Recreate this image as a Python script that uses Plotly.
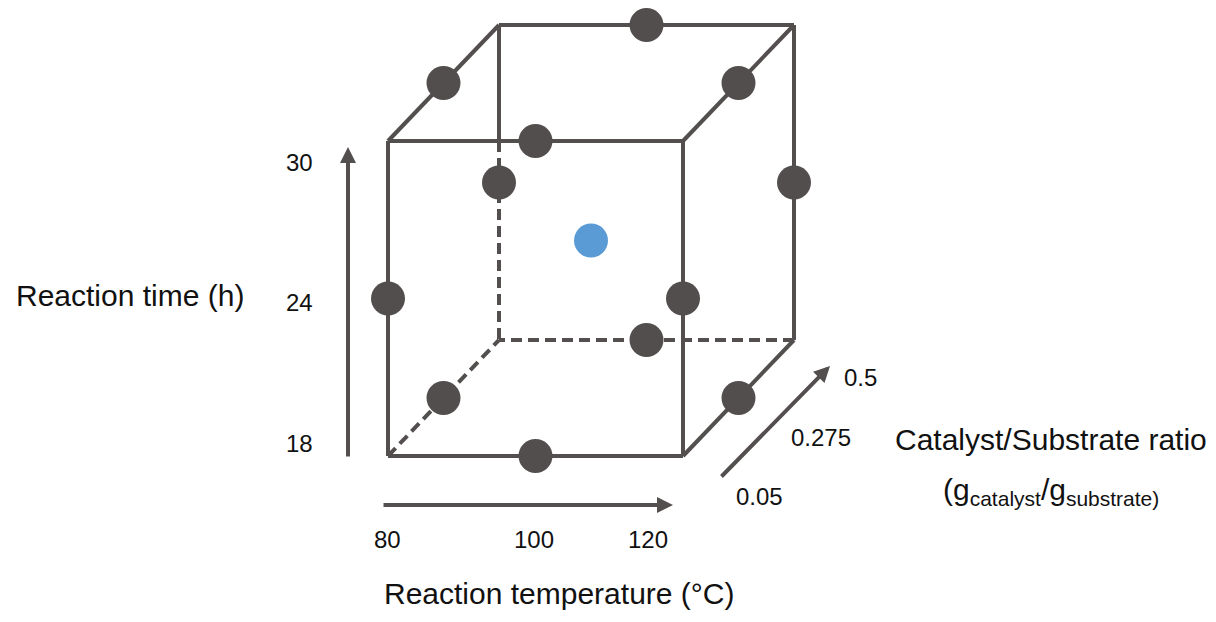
import plotly.graph_objects as go

# ---------------- data ----------------
temp_levels = [80, 100, 120]          # Reaction temperature (°C)
time_levels = [18, 24, 30]            # Reaction time (h)
ratio_levels = [0.05, 0.275, 0.5]     # Catalyst/Substrate ratio

# Box-Behnken design: edge mid-points of the cube
design_temp = [80, 120, 80, 120, 100, 100, 100, 100, 80, 120, 80, 120]
design_time = [18, 18, 30, 30, 18, 30, 18, 30, 24, 24, 24, 24]
design_ratio = [0.275, 0.275, 0.275, 0.275, 0.05, 0.05, 0.5, 0.5, 0.05, 0.05, 0.5, 0.5]
# centre point
center_temp = [100]
center_time = [24]
center_ratio = [0.275]

temp_ticks = ["80", "100", "120"]
time_ticks = ["18", "24", "30"]
ratio_ticks = ["0.05", "0.275", "0.5"]

# ---------------- oblique projection ----------------
X0, Y0 = 388, 456      # front-bottom-left corner on canvas
W, H = 295, 315        # temperature span, time span
DX, DY = 111, 116      # depth (ratio) offset

tmin, tmax = min(temp_levels), max(temp_levels)
hmin, hmax = min(time_levels), max(time_levels)
rmin, rmax = min(ratio_levels), max(ratio_levels)


def proj(T, t, R):
    u = (T - tmin) / (tmax - tmin)
    v = (t - hmin) / (hmax - hmin)
    w = (R - rmin) / (rmax - rmin)
    return X0 + u * W + w * DX, Y0 - v * H - w * DY


def corner(i, j, k):
    return ([tmin, tmax][i], [hmin, hmax][j], [rmin, rmax][k])


LINE = "#534f4e"
DOT = "#524e4d"
BLUE = "#5b9bd5"


def seg_trace(segments, dash):
    xs, ys = [], []
    for a, b in segments:
        for p in (a, b):
            x, y = proj(*p)
            xs.append(x)
            ys.append(y)
        xs.append(None)
        ys.append(None)
    return go.Scatter(x=xs, y=ys, mode="lines", hoverinfo="skip",
                      line=dict(color=LINE, width=4, dash=dash))


# time at which the back-left edge passes behind the front top edge
t_cross = hmin + (1 - DY / H) * (hmax - hmin)

solid = [
    (corner(0, 0, 0), corner(1, 0, 0)),
    (corner(1, 0, 0), corner(1, 1, 0)),
    (corner(1, 1, 0), corner(0, 1, 0)),
    (corner(0, 1, 0), corner(0, 0, 0)),
    (corner(0, 1, 1), corner(1, 1, 1)),
    (corner(1, 1, 1), corner(1, 0, 1)),
    (corner(0, 1, 0), corner(0, 1, 1)),
    (corner(1, 1, 0), corner(1, 1, 1)),
    (corner(1, 0, 0), corner(1, 0, 1)),
    (corner(0, 1, 1), (tmin, t_cross, rmax)),
]
dashed = [
    ((tmin, t_cross, rmax), corner(0, 0, 1)),
    (corner(1, 0, 1), corner(0, 0, 1)),
    (corner(0, 0, 0), corner(0, 0, 1)),
]

fig = go.Figure()
fig.add_trace(seg_trace(solid, "solid"))
fig.add_trace(seg_trace(dashed, "11px,6px"))

px, py = zip(*[proj(T, t, R) for T, t, R in zip(design_temp, design_time, design_ratio)])
fig.add_trace(go.Scatter(x=px, y=py, mode="markers", hoverinfo="skip",
                         marker=dict(size=34, color=DOT, line=dict(width=0))))
cx, cy = zip(*[proj(T, t, R) for T, t, R in zip(center_temp, center_time, center_ratio)])
fig.add_trace(go.Scatter(x=cx, y=cy, mode="markers", hoverinfo="skip",
                         marker=dict(size=34, color=BLUE, line=dict(width=0))))

FONT = "Liberation Sans, Arial, sans-serif"
ann = []


def txt(x, y, s, size=24):
    ann.append(dict(x=x, y=y, xref="x", yref="y", text=s, showarrow=False,
                    font=dict(family=FONT, size=size, color="#111111"),
                    xanchor="center", yanchor="middle"))


def arrow(x0, y0, x1, y1):
    ann.append(dict(x=x1, y=y1, ax=x0, ay=y0, xref="x", yref="y", axref="x", ayref="y",
                    text="", showarrow=True, arrowhead=2, arrowsize=0.8,
                    arrowwidth=4, arrowcolor=LINE, standoff=0))


# axis arrows
arrow(348, 458, 348, 147)
arrow(382, 505, 673, 505)
arrow(720, 478, 830, 366)

# tick labels
for s, y in zip(time_ticks, [443, 302, 162]):
    txt(299, y, s)
for s, x in zip(temp_ticks, [387, 534, 648]):
    txt(x, 539, s)
for s, (x, y) in zip(ratio_ticks, [(759, 496), (821, 437), (860, 377)]):
    txt(x, y, s)

# axis titles
txt(130, 295, "Reaction time (h)", 30)
txt(559, 593, "Reaction temperature (°C)", 30)
txt(1051, 439, "Catalyst/Substrate ratio", 30)
txt(1051, 491, "(g<sub>catalyst</sub>/g<sub>substrate)</sub>", 30)

# the page has an 8 px body margin: size the figure so it fits the window
# and offset the ranges so that canvas coordinates equal window pixels
M = 8
fig.update_layout(
    width=1216 - 2 * M, height=622 - 2 * M,
    margin=dict(l=0, r=0, t=0, b=0),
    paper_bgcolor="white", plot_bgcolor="white",
    showlegend=False,
    xaxis=dict(range=[M, 1216 - M], visible=False, fixedrange=True),
    yaxis=dict(range=[622 - M, M], visible=False, fixedrange=True),
    annotations=ann,
)

fig.write_html("out.html")
